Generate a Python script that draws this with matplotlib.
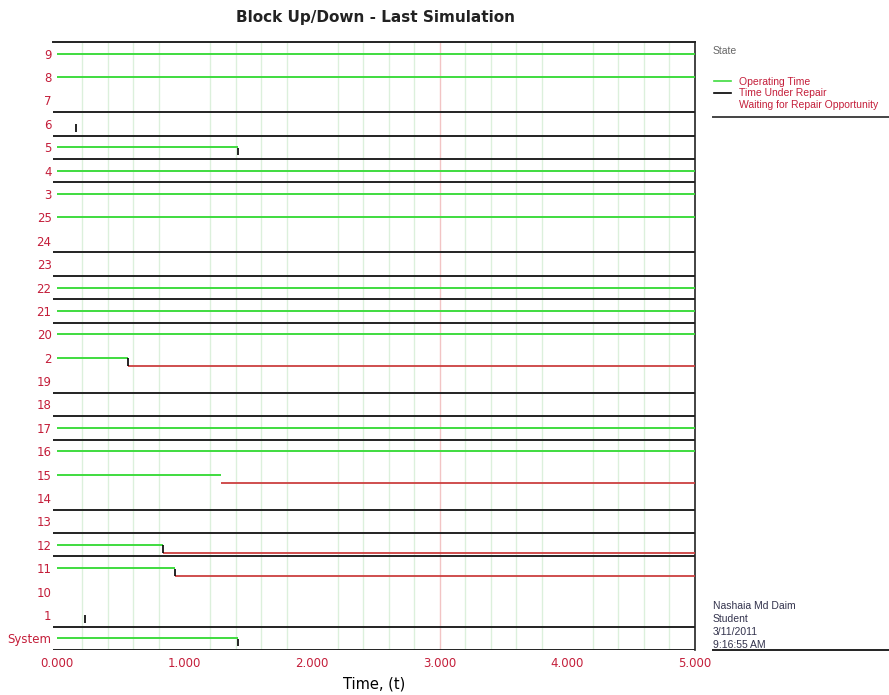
import numpy as np
import matplotlib
matplotlib.use("Agg")
import matplotlib.pyplot as plt
from matplotlib.lines import Line2D

# blocks in display order (top to bottom)
blocks = ['9', '8', '7', '6', '5', '4', '3', '25', '24', '23', '22', '21', '20',
          '2', '19', '18', '17', '16', '15', '14', '13', '12', '11', '10', '1', 'System']
# operating (up) time from t=0 until this time
up_end = [5.0, 5.0, 0.0, 0.0, 1.42, 5.0, 5.0, 5.0, 0.0, 0.0, 5.0, 5.0, 5.0,
          0.56, 0.0, 0.0, 5.0, 5.0, 1.29, 0.0, 0.0, 0.83, 0.925, 0.0, 0.0, 1.42]
# failure events (nan = no failure shown)
fail_at = [np.nan, np.nan, np.nan, 0.15, 1.42, np.nan, np.nan, np.nan, np.nan, np.nan, np.nan, np.nan, np.nan,
           0.56, np.nan, np.nan, np.nan, np.nan, np.nan, np.nan, np.nan, 0.83, 0.925, np.nan, 0.22, 1.42]
# waiting for repair opportunity from this time on
wait_from = [np.nan, np.nan, np.nan, np.nan, np.nan, np.nan, np.nan, np.nan, np.nan, np.nan, np.nan, np.nan, np.nan,
             0.56, np.nan, np.nan, np.nan, np.nan, 1.29, np.nan, np.nan, 0.83, 0.925, np.nan, np.nan, np.nan]
# blocks with the under-repair level drawn over the whole run
under_repair = ['7', '6', '5', '4', '24', '23', '22', '21', '19', '18', '17', '14', '13', '12', '1', 'System']

t_end = 5.0
x_ticks = [0, 1, 2, 3, 4, 5]
x_labels = ['0.000', '1.000', '2.000', '3.000', '4.000', '5.000']

GREEN = '#3fdc3f'
RED = '#cc4040'
LABEL_RED = '#c41e3a'
SMALL_FONT = ['Liberation Sans', 'DejaVu Sans']

fig = plt.figure(figsize=(8.89, 6.95), dpi=100)
ax = fig.add_axes([0.0596, 0.0647, 0.7222, 0.8749])

x_left = -0.03
ax.set_xlim(x_left, t_end)
ax.set_ylim(len(blocks) - 0.5, -0.5)

# light vertical grid every 0.2, plus the red marker at t=3
minor = [round(v, 1) for v in np.arange(0.2, 5.0, 0.2) if abs(v - round(v)) > 1e-6]
ax.set_xticks(minor, minor=True)
ax.grid(True, which='minor', axis='x', color='#dcf0dc', lw=1.0, zorder=0)
ax.axvline(3.0, color='#f2c4c4', lw=1.0, zorder=0)

for i, name in enumerate(blocks):
    if up_end[i] > 0:
        ax.hlines(i, 0, up_end[i], color=GREEN, lw=1.4, zorder=3)
    if not np.isnan(wait_from[i]):
        ax.hlines(i + 0.34, wait_from[i], t_end, color=RED, lw=1.3, zorder=3)
    if not np.isnan(fail_at[i]):
        ax.vlines(fail_at[i], i + 0.02, i + 0.34, color='black', lw=1.2, zorder=4)
    if name in under_repair:
        ax.hlines(i + 0.5, x_left, t_end, color='#222222', lw=1.4, zorder=2)

ax.set_yticks(range(len(blocks)))
ax.set_yticklabels(blocks, color=LABEL_RED, fontsize=8.5)
ax.set_xticks(x_ticks)
ax.set_xticklabels(x_labels, color=LABEL_RED, fontsize=8.5)
ax.tick_params(axis='both', which='both', length=0)
ax.tick_params(axis='y', pad=1)
ax.tick_params(axis='x', pad=5)

for side in ['left', 'bottom']:
    ax.spines[side].set_visible(False)
ax.spines['top'].set_color('#222222')
ax.spines['right'].set_color('#222222')
ax.spines['top'].set_linewidth(1.4)
ax.spines['right'].set_linewidth(1.2)

ax.set_xlabel('Time, (t)', fontsize=10.5, labelpad=5)
fig.text(0.422, 0.975, 'Block Up/Down - Last Simulation', ha='center', va='center',
         fontsize=11, fontweight='bold', color='#222222')

# legend block on the right
fig.text(0.802, 0.927, 'State', fontsize=7.5, color='#666666', va='center', family=SMALL_FONT)
handles = [Line2D([], [], color=GREEN, lw=1.2),
           Line2D([], [], color='black', lw=1.2),
           Line2D([], [], color=RED, lw=0)]
leg = fig.legend(handles, ['Operating Time', 'Time Under Repair', 'Waiting for Repair Opportunity'],
                 loc='upper left', bbox_to_anchor=(0.795, 0.900), frameon=False,
                 prop={'family': SMALL_FONT, 'size': 7.5}, labelcolor=LABEL_RED,
                 handlelength=1.6, handletextpad=0.8, labelspacing=0.15, borderpad=0.2)
fig.add_artist(Line2D([0.802, 1.0], [0.832, 0.832], color='#444444', lw=1.4))

# user / date stamp
stamp = ['Nashaia Md Daim', 'Student', '3/11/2011', '9:16:55 AM']
for k, s in enumerate(stamp):
    fig.text(0.802, 0.128 - k * 0.0187, s, fontsize=7.5, color='#33334d', va='center', family=SMALL_FONT)
fig.add_artist(Line2D([0.802, 1.0], [0.0647, 0.0647], color='#222222', lw=1.4))

fig.savefig('out.png', dpi=100)
